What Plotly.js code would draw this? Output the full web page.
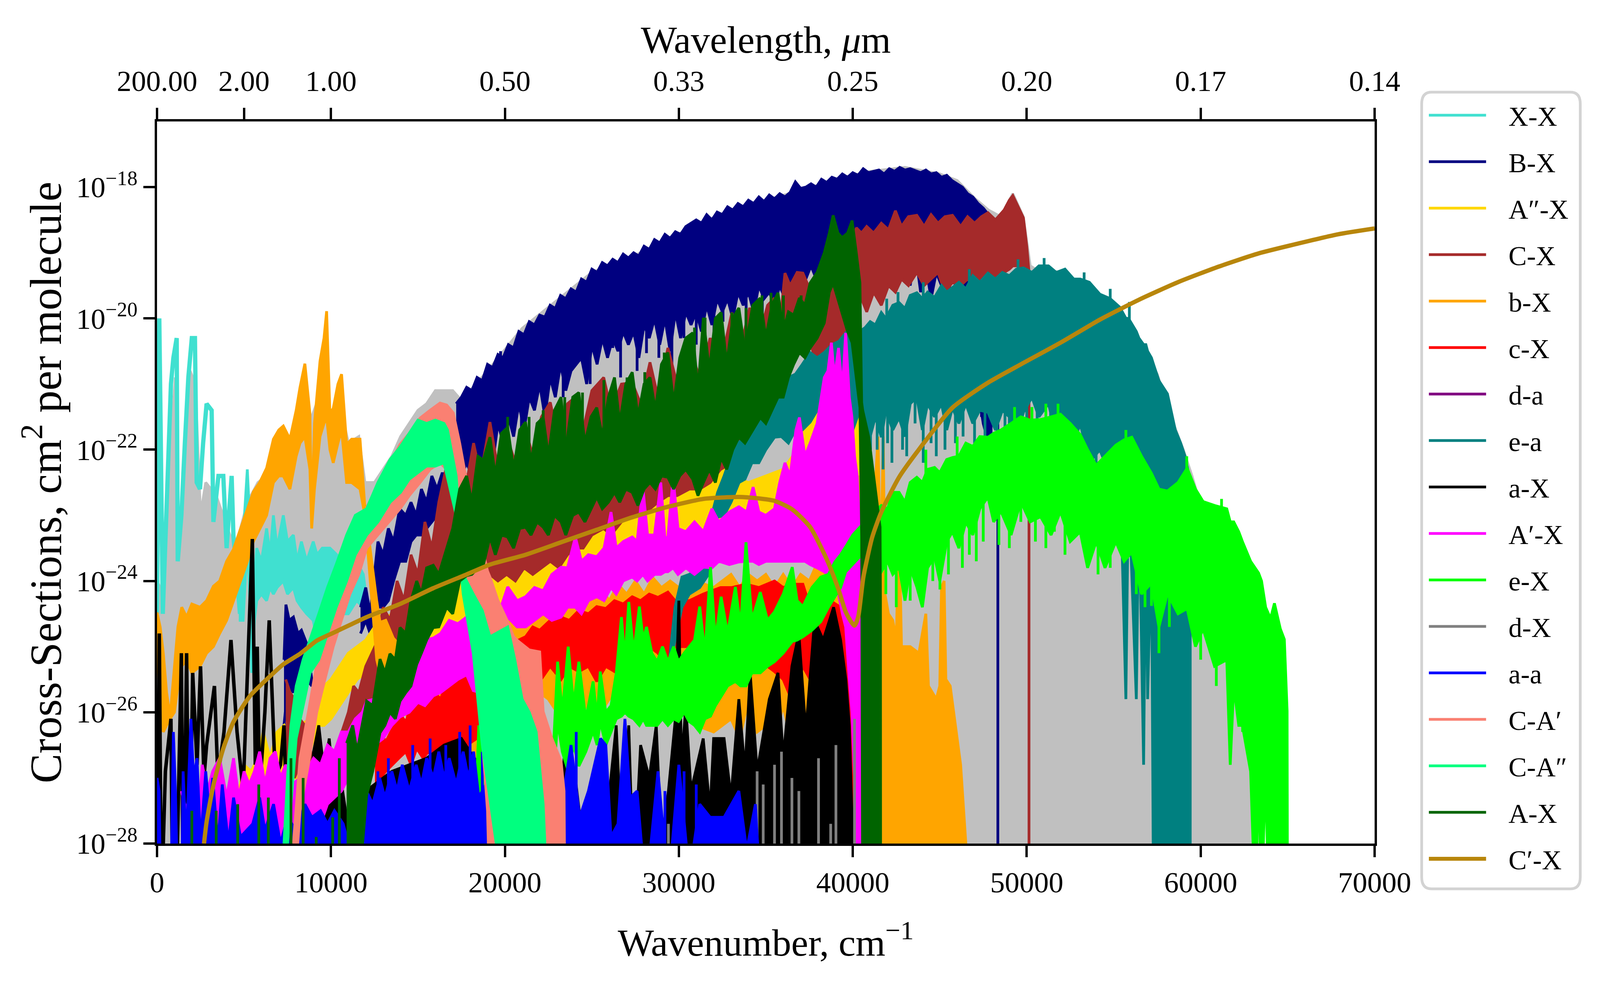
<!DOCTYPE html>
<html>
<head>
<meta charset="utf-8">
<script src="https://cdn.plot.ly/plotly-3.0.1.min.js"></script>
<style>body {margin: 0; background: white;} #chart {width: 100%; height: 100vh;}</style>
</head>
<body>
<div id="chart"></div>
<script>
// rows are [wavenumber, log10 upper, log10 lower]; a missing lower means down to the floor of the plot
var names = ["X-X", "B-X", "A″-X", "C-X", "b-X", "c-X", "d-a", "e-a", "a-X", "A′-X", "e-X", "d-X", "a-a", "C-A′", "C-A″", "A-X", "C′-X"]
var colors = ["turquoise", "navy", "gold", "brown", "orange", "red", "purple", "teal", "black", "magenta", "lime", "gray", "blue", "salmon", "springgreen", "darkgreen", "darkgoldenrod"]

var wavelength_ticks = [0, 5000, 10000, 20000, 30000, 40000, 50000, 60000, 70000]
var wavelength_labels = ["200.00", "2.00", "1.00", "0.50", "0.33", "0.25", "0.20", "0.17", "0.14"]
var wavenumber_ticks = [0, 10000, 20000, 30000, 40000, 50000, 60000, 70000]
var cross_ticks = [1e-28, 1e-26, 1e-24, 1e-22, 1e-20, 1e-18]
var cross_labels = ["10<sup>−28</sup>", "10<sup>−26</sup>", "10<sup>−24</sup>", "10<sup>−22</sup>", "10<sup>−20</sup>", "10<sup>−18</sup>"]

var total = [[0,-24.0],[500,-24.3],[900,-21.5],[1050,-20.9],[1250,-23.6],[1500,-22.6],[1900,-20.8],[2200,-21.0],[2500,-23.0],[2800,-22.5],[3400,-22.7],[4200,-23.3],[4450,-23.5],[4800,-23.2],[5200,-22.8],[5800,-22.5],[6300,-22.4],[7000,-22.3],[7600,-21.9],[8300,-21.7],[8900,-21.5],[9300,-21.2],[9600,-20.9],[10000,-21.5],[10500,-21.3],[11000,-21.9],[11600,-21.8],[11950,-22.5],[12500,-22.5],[13000,-22.3],[13500,-22.1],[14000,-21.8],[14500,-21.6],[15000,-21.4],[15500,-21.3],[16000,-21.1],[16500,-21.1],[17000,-21.1],[17500,-21.25],[19000,-20.8],[21000,-20.15],[23000,-19.72],[25000,-19.3],[27000,-19.1],[29000,-18.85],[31000,-18.58],[33000,-18.35],[35000,-18.2],[37000,-18.05],[39500,-17.85],[41000,-17.76],[43000,-17.7],[45000,-17.8],[46000,-17.9],[47000,-18.17],[47800,-18.35],[48500,-18.45],[49200,-18.1],[49800,-18.45],[50200,-19.2],[50500,-19.25],[52000,-19.3],[54000,-19.65],[55500,-19.95],[56500,-20.35],[57500,-20.85],[58500,-21.65],[59000,-22.0],[59500,-22.4],[60500,-23.3],[61500,-23.8],[62500,-24.4],[63000,-25],[63300,-27],[63310,-29]]

var xx_line = [[0,-24.5],[60,-21],[130,-20.0],[200,-21.5],[330,-24.5],[600,-22.5],[800,-21.0],[940,-20.6],[1130,-20.3],[1190,-23.7],[1400,-23.0],[1600,-21.9],[1800,-20.9],[2000,-20.3],[2180,-20.3],[2280,-22.5],[2470,-22.6],[2650,-21.9],[2850,-21.3],[3140,-21.4],[3240,-23.1],[3530,-22.4],[3810,-22.4],[4000,-23.5],[4290,-22.4],[4390,-23.3],[4770,-24.5]]
var xx_band = [[4700,-24.4,-24.6],[4950,-23.4,-24.6],[5190,-22.3,-23.4],[5300,-22.9,-24.0],[5440,-25.4,-25.4],[5600,-24.0,-24.6],[5730,-23.5,-24.3],[6000,-23.7,-24.2],[6300,-23.2,-24.3],[6500,-23.6,-24.1],[6690,-23.0,-24.2],[6900,-23.5,-24.1],[7260,-23.0,-24.0],[7500,-23.4,-24.2],[7840,-23.3,-24.1],[8050,-23.7,-24.3],[8300,-23.4,-24.4],[8600,-23.7,-24.5],[8980,-23.4,-24.6],[9200,-23.6,-24.9],[9500,-23.5,-24.3],[9940,-23.5,-24.5],[10330,-23.6,-24.6],[10700,-24.0,-24.5],[11000,-23.9,-24.5],[11470,-23.7,-24.3],[11860,-23.9,-24.4],[12050,-24.3,-24.6]]

var bx_low1 = [[7300,-25.2,-26.2],[7410,-24.36,-25.9],[7600,-24.6,-25.6],[7840,-24.55,-25.7],[8100,-24.8,-25.4],[8300,-24.75,-25.5],[8600,-24.95,-25.5],[8900,-25.5,-25.6]]
var bx_low2 = [[11700,-24.4,-24.8],[12000,-24.1,-24.6],[12250,-24.5,-24.8],[12700,-23.4,-24.4],[13000,-23.6,-24.4],[13300,-23.2,-24.3],[13600,-23.4,-24.0],[13950,-22.9,-23.7],[14300,-23.0,-23.7],[14600,-22.8,-23.4],[14900,-23.0,-23.3],[15200,-22.6,-23.3],[15500,-22.8,-23.2],[15800,-22.4,-23.1],[16100,-22.6,-23.0],[16400,-22.35,-22.8],[16700,-22.6,-23.0],[17100,-22.1,-22.8]]
var bx_main = [[17200,-21.3,-22.3],[17500,-21.2,-22.4],[17800,-21.05,-22.2],[18100,-21.1,-22.4],[18400,-20.9,-22.0],[18700,-20.95,-22.3],[19000,-20.7,-21.8],[19300,-20.75,-22.2],[19600,-20.55,-21.6],[19900,-20.6,-21.9],[20200,-20.4,-21.5],[20500,-20.45,-21.8],[20800,-20.2,-21.3],[21100,-20.25,-21.7],[21400,-20.05,-21.2],[21700,-20.1,-21.4],[22000,-19.95,-21.0],[22300,-19.98,-21.5],[22600,-19.8,-20.9],[22900,-19.85,-21.2],[23200,-19.65,-20.7],[23500,-19.7,-21.1],[23800,-19.55,-20.8],[24100,-19.6,-20.7],[24400,-19.4,-20.6],[24700,-19.45,-21.0],[25000,-19.25,-20.4],[25300,-19.3,-20.7],[25600,-19.15,-20.3],[25900,-19.2,-20.6],[26200,-19.1,-20.3],[26500,-19.15,-20.5],[26800,-19.02,-20.2],[27100,-19.08,-20.4],[27400,-19.0,-20.2],[27700,-19.05,-20.6],[28000,-18.9,-20.1],[28300,-18.95,-20.3],[28600,-18.8,-20.0],[28900,-18.85,-20.4],[29200,-18.72,-20.0],[29500,-18.78,-20.5],[29800,-18.68,-19.9],[30100,-18.72,-20.3],[30400,-18.6,-19.9],[30700,-18.55,-20.1],[31000,-18.5,-19.9],[31300,-18.55,-20.2],[31600,-18.42,-19.8],[31900,-18.5,-20.1],[32200,-18.38,-19.7],[32500,-18.42,-19.9],[32800,-18.3,-19.7],[33100,-18.35,-20.0],[33400,-18.25,-19.6],[33700,-18.3,-19.8],[34000,-18.2,-19.6],[34300,-18.25,-19.9],[34600,-18.15,-19.5],[34900,-18.22,-19.7],[35200,-18.12,-19.6],[35500,-18.18,-19.8],[35800,-18.1,-19.5],[36100,-18.15,-19.7],[36400,-18.08,-19.4],[36700,-17.92,-19.6],[37000,-18.02,-19.3],[37300,-18.0,-19.4],[37600,-17.95,-19.2],[37900,-18.0,-19.4],[38200,-17.88,-19.2],[38500,-17.93,-19.3],[38800,-17.85,-19.1],[39100,-17.88,-19.3],[39400,-17.8,-19.1],[39700,-17.85,-19.2],[40000,-17.78,-19.0],[40300,-17.82,-19.1],[40600,-17.72,-19.0],[40900,-17.78,-19.1],[41200,-17.76,-19.0],[41500,-17.74,-19.1],[41800,-17.8,-19.0],[42100,-17.72,-19.0],[42400,-17.76,-19.1],[42700,-17.7,-19.0],[43000,-17.74,-19.1],[43300,-17.72,-19.5],[43600,-17.75,-19.0],[43900,-17.78,-19.6],[44200,-17.74,-19.2],[44500,-17.8,-19.7],[44800,-17.78,-19.3],[45100,-17.85,-19.5],[45400,-17.82,-19.8],[45700,-17.9,-19.3],[46000,-17.95,-19.6],[46300,-18.0,-19.8],[46600,-18.1,-20.5],[46900,-18.15,-19.9],[47200,-18.25,-21.1],[47500,-18.32,-21.6],[47800,-18.42,-21.9]]
var bx_spike = [[48340,-29,-21.4]]
var bx_dips = [[19750,-21.5,-20.5],[20370,-21.36,-20.5],[20950,-21.9,-21],[21800,-21.2,-20.3],[22300,-21.7,-20.5],[22820,-20.97,-20],[23350,-21.2,-20.2],[24250,-20.59,-19.8],[24900,-21.0,-20],[25280,-20.52,-19.6],[26200,-20.45,-19.5],[26650,-20.9,-19.7],[27120,-20.37,-19.5],[27600,-20.8,-19.6],[28140,-20.53,-19.4],[28850,-20.6,-19.3],[29600,-20.7,-19.3],[30290,-20.3,-19.2],[31000,-20.4,-19.2],[32020,-20.3,-19],[32540,-20.05,-19],[33870,-20.1,-18.9],[34800,-20.0,-18.8],[36100,-19.85,-18.8],[47400,-21.5,-19],[47650,-21.9,-19.2],[47950,-22,-19.5]]

var gold_rows = [[4000,-27.2,-28],[4500,-27.5,-28],[5000,-26.8,-27.8],[5400,-26.9,-27.7],[5800,-26.7,-27.4],[6100,-26.3,-27.1],[6500,-26.7,-27.2],[6900,-26.3,-27.0],[7300,-26.2,-26.9],[7700,-26.5,-27.0],[8200,-26.2,-27.0],[8800,-26.1,-26.6],[9200,-25.7,-26.2],[9600,-25.6,-26.2],[10000,-25.5,-26.1],[10500,-25.3,-25.9],[11000,-25.1,-25.7],[11500,-25.0,-25.5],[12000,-24.9,-25.4],[12500,-24.7,-25.2],[13500,-24.5,-25.1],[15000,-24.3,-25.0],[17000,-24,-24.8],[19000,-23.8,-24.6],[21000,-23.6,-24.4],[22000,-23.3,-24.2],[23230,-23.1,-24.0],[23700,-23.4,-24.1],[24200,-22.9,-23.9],[24700,-23.2,-23.9],[25280,-22.8,-23.7],[25800,-23.1,-23.8],[26300,-22.75,-23.6],[26800,-23.0,-23.7],[27320,-22.65,-23.5],[27800,-22.9,-23.6],[28300,-22.6,-23.5],[28800,-22.85,-23.6],[29370,-22.5,-23.4],[29900,-22.7,-23.5],[30400,-22.45,-23.4],[30900,-22.6,-23.4],[31410,-22.3,-23.3],[31900,-22.4,-23.3],[32500,-22.25,-23.2],[33000,-22.4,-23.2],[34000,-22.5,-23.3],[35000,-22.4,-23.3],[36000,-22.3,-23.2],[36800,-22,-23.2],[37500,-21.3,-23],[38000,-21,-23],[38500,-20.3,-23],[38900,-19.9,-23],[39200,-20.5,-23],[39600,-21,-23],[40000,-20.2,-23],[40200,-20.4,-23],[40400,-21.5,-24],[40700,-22.3,-24.5],[41000,-22.8,-25],[41500,-23,-25]]

var cx_rows = [[7400,-25.5,-26.9],[7650,-25.7,-26.6],[7900,-25.8,-27.0],[8200,-26.1,-26.8],[8500,-26.2,-27.1],[9000,-26.8,-27.6],[10000,-26.8,-27.6],[10500,-26.4,-27.2],[11000,-26.0,-26.9],[11300,-25.6,-26.6],[11600,-25.7,-26.4],[12000,-25.3,-26.2],[12350,-25.1,-26.1],[12700,-24.9,-25.9],[13000,-24.4,-25.4],[13400,-24.6,-25.2],[13800,-24.0,-24.9],[14200,-24.3,-25.0],[14600,-23.6,-24.7],[15000,-23.9,-24.8],[15400,-23.1,-24.5],[15800,-23.5,-24.4],[16200,-22.8,-24.1],[16600,-22.3,-23.8],[17000,-22.6,-23.6],[17400,-22.0,-23.6],[17800,-22.5,-23.8],[18200,-21.9,-23.7],[18600,-22.4,-23.9],[19140,-21.58,-23.9],[19600,-22.3,-24.0],[20100,-21.8,-23.9],[20600,-22.2,-24.0],[21100,-21.6,-23.8],[21600,-22.1,-23.9],[22100,-21.5,-23.8],[22610,-21.28,-23.7],[23100,-21.9,-23.8],[23600,-21.3,-23.6],[24050,-21.2,-23.5],[24500,-21.7,-23.5],[25000,-21.1,-23.3],[25680,-20.9,-23.2],[26100,-21.4,-23.3],[26700,-21.0,-23.1],[27320,-20.98,-23.0],[27800,-21.3,-23.0],[28340,-20.67,-22.9],[28800,-21.2,-22.8],[29370,-20.45,-22.7],[29900,-21.0,-22.7],[30600,-20.45,-22.6],[31200,-20.9,-22.6],[31800,-20.3,-22.5],[32400,-20.7,-22.3],[33050,-19.91,-22.2],[33600,-20.4,-22.1],[34070,-19.84,-21.9],[34600,-20.3,-21.6],[35100,-19.8,-21.4],[35500,-19.69,-21.0],[35800,-20.1,-20.8],[36100,-19.31,-20.2],[36400,-19.5,-20.1],[36800,-19.3,-20.3],[37130,-19.31,-20.0],[37600,-19.6,-20.4],[38100,-19.4,-20.9],[38400,-19.3,-20.7],[38770,-19.23,-20.6],[39200,-19.4,-20.5],[39600,-19.3,-20.4],[40000,-19.0,-19.9],[40200,-18.62,-19.6],[40500,-18.7,-19.7],[40800,-18.6,-19.9],[41200,-18.7,-19.6],[41640,-18.55,-19.8],[42050,-18.65,-19.5],[42450,-18.36,-19.6],[42800,-18.6,-19.4],[43200,-18.45,-19.5],[43680,-18.43,-19.3],[44100,-18.6,-19.5],[44500,-18.42,-19.4],[44900,-18.55,-19.3],[45300,-18.45,-19.6],[45730,-18.43,-19.45],[46200,-18.6,-19.5],[46600,-18.45,-19.4],[47000,-18.55,-19.5],[47400,-18.45,-19.4],[47770,-18.39,-19.35],[48200,-18.5,-19.4],[48700,-18.35,-19.3],[49000,-18.2,-19.25],[49200,-18.13,-19.2],[49500,-18.3,-19.2],[49810,-18.47,-19.25],[50000,-18.9,-19.25],[50120,-19.23,-19.25]]
var cx_spike = [[50130,-29,-19.3]]

var orange_rows = [[0,-24.48,-25.0],[180,-24.7,-25.9],[360,-25.1,-26.3],[550,-25.7,-26.2],[750,-26.07,-26.1],[1000,-25.3,-26.0],[1200,-24.7,-25.6],[1420,-24.4,-25.3],[1700,-24.55,-25.2],[2000,-24.35,-25.4],[2470,-24.4,-25.3],[2850,-24.3,-25.1],[3240,-24.08,-25.0],[3600,-24.0,-24.8],[4000,-23.7,-24.6],[4390,-23.52,-24.3],[4800,-23.2,-24.0],[5200,-22.9,-23.7],[5540,-22.64,-23.4],[5900,-22.5,-23.2],[6300,-22.28,-23.0],[6690,-21.84,-22.5],[7000,-21.7,-22.4],[7260,-21.64,-22.4],[7640,-21.84,-22.6],[8000,-21.4,-22.1],[8220,-21.05,-21.9],[8500,-20.69,-21.8],[8790,-21.45,-22.3],[8890,-23.12,-23.2],[9050,-21.6,-22.6],[9370,-20.65,-21.8],[9600,-20.3,-21.6],[9750,-19.89,-21.5],[9940,-21.45,-22.0],[10130,-21.37,-22.2],[10400,-21.0,-21.9],[10610,-20.85,-21.7],[10900,-21.92,-22.5],[11190,-21.84,-22.5],[11670,-21.84,-22.6],[11950,-22.88,-23.0],[12240,-23.5,-24.0],[12630,-24.3,-25.2],[12820,-24.63,-25.4],[13150,-24.6,-25.5],[13580,-24.87,-25.5],[15000,-25.3,-26.5],[17000,-25.6,-26.8],[18300,-25.7,-26.7],[18660,-25.9,-27],[20160,-24.3,-25.8],[21000,-24.3,-25.9],[22000,-24.2,-25.7],[22500,-24.2,-25.8],[23000,-24.4,-26.0],[23500,-24.1,-25.7],[24000,-24.3,-25.9],[24500,-24.1,-26.0],[25000,-24.3,-25.7],[25500,-24.1,-26.0],[26000,-24.3,-25.8],[26500,-24.05,-25.6],[27000,-24.2,-25.8],[27500,-24.0,-25.7],[28000,-24.2,-25.8],[28500,-23.95,-25.6],[29000,-24.1,-25.8],[29500,-24.0,-25.8],[30000,-24.1,-25.9],[31000,-24.0,-26.2],[32000,-24.1,-26.3],[33000,-23.9,-26.1],[33500,-24.1,-26.4],[34000,-23.9,-25.8],[34500,-24.0,-26.3],[35000,-23.9,-26.2],[35500,-24.1,-26.4],[36000,-23.9,-25.9],[36500,-24.1,-26.5],[37000,-23.9,-25.8],[37500,-24.0,-26.2],[38000,-23.7,-26.2],[38500,-23.6,-26.6],[39000,-23.4,-26.8],[39500,-23.2,-27.2],[40000,-22.8,-27.8],[40400,-22.4],[40800,-22.6],[41200,-23],[41450,-21.8],[41600,-24],[41750,-21.8],[41850,-24.2],[42050,-24.5],[42300,-24.6],[42500,-24.9],[42660,-23.1],[42800,-25],[43300,-25],[43800,-25.1],[44200,-24.5],[44350,-25.6],[44800,-25.8],[45000,-25.6],[45100,-24.1],[45250,-24.0],[45350,-25.5],[45600,-25.6],[45800,-26],[46200,-26.8],[46500,-28],[46600,-29]]

var red_rows = [[12530,-26.63,-27.1],[12850,-26.3,-27.0],[13150,-26.45,-26.9],[13580,-26.23,-26.79],[13900,-26.0,-26.7],[14300,-26.15,-26.6],[14600,-25.9,-26.8],[14930,-25.83,-26.55],[15300,-25.95,-26.7],[15600,-25.7,-26.6],[15880,-25.67,-26.7],[16300,-25.8,-26.9],[16700,-25.5,-26.5],[17100,-25.6,-26.7],[17420,-25.43,-26.55],[17700,-25.3,-26.6],[17990,-25.19,-26.47],[18370,-25.75,-26.4],[18660,-26.07,-26.4],[19000,-26.1,-26.6],[20000,-25,-26],[21190,-24.85,-25.3],[21600,-24.7,-25.2],[22000,-24.75,-25.53],[22600,-24.6,-25.3],[23230,-24.55,-25.5],[23700,-24.6,-25.3],[24250,-24.45,-25.38],[24800,-24.5,-25.3],[25280,-24.39,-25.53],[25800,-24.42,-25.3],[26300,-24.3,-25.38],[26800,-24.35,-25.1],[27320,-24.24,-25],[27800,-24.3,-25.1],[28300,-24.2,-25.0],[28800,-24.25,-25.1],[29370,-24.17,-25.3],[29780,-24.3,-25.0],[30600,-24.3,-25.0],[31400,-24.2,-25.2],[32400,-24.1,-25.3],[33050,-24.1,-25.1],[33860,-24.05,-25.53],[34600,-24.1,-25.2],[35500,-24.0,-25.38],[36000,-24.1,-25.5],[36520,-24.05,-25.83],[37130,-24.05,-25.3],[37550,-24.4,-25.5],[37950,-24.4,-26.06],[38700,-24.3,-25.5],[39300,-24.4,-25.0],[40300,-25.7],[40520,-25.7]]

var ea_rows = [[29300,-25.6,-25.6],[29600,-24.8,-25.2],[29780,-24.4,-24.9],[30180,-23.94,-24.4],[30600,-23.9,-24.2],[31200,-23.79,-24.1],[31700,-23.2,-23.9],[32230,-22.65,-23.03],[32600,-22.4,-23.0],[33000,-22.1,-22.8],[33460,-21.89,-22.5],[33800,-21.8,-22.45],[34200,-21.6,-22.2],[34600,-21.55,-22.2],[35000,-21.3,-22.0],[35500,-21.13,-21.81],[35900,-21.15,-21.8],[36300,-20.9,-21.9],[36700,-20.85,-21.7],[37100,-20.7,-21.7],[37550,-20.52,-21.58],[37950,-20.6,-21.4],[38360,-20.52,-21.51],[38800,-20.4,-21.4],[39200,-20.35,-21.6],[39590,-20.22,-21.8],[40000,-20.14,-21.7],[40400,-20.2,-21.4],[40710,-20.14,-21.58],[41000,-20.05,-21.8],[41300,-20.1,-21.5],[41640,-19.91,-21.81],[41900,-20.0,-21.4],[42300,-19.8,-21.7],[42660,-19.76,-21.51],[43000,-19.85,-21.8],[43300,-19.65,-21.3],[43680,-19.61,-21.2],[44000,-19.7,-21.7],[44300,-19.6,-21.3],[44700,-19.68,-21.5],[45100,-19.5,-21.3],[45400,-19.6,-21.7],[45730,-19.53,-21.36],[46100,-19.45,-21.6],[46500,-19.55,-21.3],[46900,-19.35,-21.6],[47300,-19.45,-21.4],[47770,-19.31,-21.43],[48200,-19.4,-21.7],[48600,-19.3,-21.4],[49000,-19.35,-21.5],[49400,-19.25,-21.8],[49815,-19.23,-21.43],[50300,-19.3,-21.2],[50700,-19.2,-21.5],[51250,-19.2,-21.3],[51700,-19.3,-21.8],[52200,-19.25,-21.4],[52700,-19.4,-21.9],[53075,-19.4,-21.6],[53600,-19.45,-22.2],[54200,-19.63,-22.0],[54800,-19.7,-22.4],[55350,-19.83,-22.1],[55700,-20.0,-25.8],[55850,-20.0,-22.5],[56300,-20.2,-25.8],[56450,-20.3,-22.7],[56720,-20.4,-26.8],[56850,-20.4,-23.0],[56950,-20.5,-25.8],[57170,-20.6,-23.4],[57290,-20.7],[57600,-20.95],[58090,-21.15],[58300,-21.4],[58540,-21.7],[58850,-21.9],[59100,-22.1],[59340,-22.4],[59400,-22.6]]
var ea_dips = [[41020,-22.0,-21],[41400,-22,-21],[41740,-22.3,-21],[42000,-21.9,-21],[42250,-22.2,-21],[42860,-22.0,-21],[43100,-22.1,-21],[43580,-21.6,-20.8],[44050,-22.2,-21],[44500,-21.9,-21],[44800,-22.1,-21],[45300,-22.0,-21],[45900,-21.9,-21],[46340,-21.8,-21],[47000,-21.9,-21],[47600,-22.1,-21],[48300,-22.0,-21],[48750,-22.0,-21],[49000,-21.9,-21],[49610,-21.7,-21],[50000,-21.9,-21],[50600,-22.1,-21],[51370,-22.0,-21],[51900,-22.3,-21],[52160,-21.9,-21],[52850,-22.1,-21],[53300,-22.5,-21.4],[53990,-22.6,-21.5],[54440,-22.5,-21.5],[54700,-22.8,-21.5],[55010,-22.9,-21.5],[55300,-23.0,-21.8],[41950,-20.5,-19.7],[42600,-20.5,-19.6],[44050,-20.3,-19.45],[46700,-20.2,-19.25],[49500,-20.2,-19.1],[51000,-20.2,-19.08],[53300,-20.2,-19.3],[54800,-20.3,-19.55],[55900,-20.5,-19.75]]

var ax_line = [[0,-29],[130,-24.8],[250,-29],[480,-26.9],[800,-26.1],[900,-29],[1100,-29],[1400,-25.1],[1500,-29],[1700,-25.1],[1850,-29],[2050,-25.4],[2300,-26.8],[2500,-25.3],[2700,-27],[2850,-26.5],[3300,-25.6],[3500,-27],[3850,-26.3],[4250,-24.9],[4600,-26.3],[4950,-27.2],[5480,-23.36],[5650,-26.8],[5760,-25.0],[5900,-27.2],[6200,-26.0],[6450,-24.6],[6800,-27.0],[7100,-26.8],[7300,-26.2],[7500,-28],[8000,-27.6]]
var ax_band = [[8800,-27.6],[9000,-26.6],[9300,-26.2],[9600,-26.9],[9900,-26.4],[10200,-27.2],[10500,-26.9],[10900,-27.6],[11500,-27.3],[12500,-27.1],[13500,-26.9],[14500,-26.8],[15500,-26.7],[16500,-26.5],[17500,-26.4],[18500,-26.8],[19400,-27.3],[19600,-29],[23000,-29],[23400,-26.7],[23700,-28.2],[24000,-26.9],[24500,-28],[25100,-26.9],[25600,-28.3],[26400,-26.2],[26700,-28],[27120,-26.2],[27400,-28.6],[27800,-26.5],[28300,-27.0],[28700,-26.2],[29000,-28],[29400,-27.2],[29800,-26.1],[30000,-24.3],[30150,-26.8],[30400,-25.9],[30700,-27.2],[31400,-26.4],[31800,-27.5],[32000,-26.4],[32600,-26.4],[33000,-27.3],[33450,-25.8],[33800,-26.9],[34100,-25.4],[34500,-26.9],[34900,-26.3],[35200,-25.8],[35700,-25.4],[36000,-26.7],[36500,-25.3],[36900,-24.8],[37300,-26.3],[37800,-24.6],[38300,-24.9],[38900,-24.4],[39300,-24.9],[39600,-25.5],[39800,-26.2],[40000,-28],[40200,-29],[40450,-29],[40550,-27.2],[40620,-29]]

var aprime_low = [[1400,-27.2],[1700,-27.5],[2000,-27.2,-28],[2300,-27.9],[2600,-26.8,-28],[2900,-27.2,-28.5],[3200,-26.9,-28],[3600,-26.7,-28],[4000,-27.3,-28.1],[4400,-26.7,-28],[4700,-27.3,-27.9],[5000,-26.9,-27.8],[5300,-27.1,-27.8],[5600,-26.9,-27.7],[5900,-26.6,-27.9],[6200,-27.1,-27.8],[6500,-26.7,-27.8],[6800,-26.6,-27.7],[7100,-27,-27.9],[7400,-26.8,-28],[7800,-27.1,-28],[8200,-27,-28],[8600,-26.9,-27.9],[9000,-26.7,-27.8],[9400,-26.8,-27.7],[9800,-26.5,-27.4],[10200,-26.6,-27.3],[10600,-26.3,-27.2],[11000,-26.3,-27],[11400,-26.1,-27],[11800,-26,-26.9],[12050,-25.83,-26.55],[12500,-25.8,-26.5],[13000,-25.55,-26.4],[13500,-25.6,-26.2],[13970,-25.35,-26.07],[14500,-25.2,-26.0],[15000,-25.15,-25.85],[15400,-24.9,-25.9],[15880,-24.87,-25.75],[16300,-24.8,-25.7],[16800,-24.6,-25.6],[17300,-24.65,-25.5],[17800,-24.55,-25.43],[18180,-24.8,-25.67],[18570,-25.27,-25.7],[19400,-24.7,-25.0],[20160,-24.09,-24.55],[20700,-24.3,-24.7],[21190,-24.24,-24.7],[21700,-24.1,-24.6],[22200,-24.15,-24.5],[22700,-23.9,-24.6],[23230,-23.79,-24.55],[23600,-23.8,-24.4],[24050,-23.33,-24.4],[24400,-23.7,-24.5],[24800,-23.6,-24.3],[25280,-23.63,-24.24],[25700,-23.5,-24.3],[26100,-22.95,-24.1],[26400,-23.5,-24.2],[26800,-23.4,-24.0],[27320,-23.33,-23.94],[27600,-23.4,-24.0],[27930,-22.57,-23.9],[28200,-23.3,-24.0],[28600,-23.3,-23.9],[28960,-22.5,-23.9],[29200,-23.35,-23.86],[29370,-23.33,-23.86],[29670,-22.42,-23.8],[29950,-23.2,-23.9],[30400,-23.25,-23.8],[30900,-23.1,-23.9],[31410,-23.25,-23.79],[31900,-22.9,-23.8],[32300,-23.1,-23.7],[32900,-22.95,-23.75],[33450,-22.87,-23.71],[33900,-22.95,-23.7],[34270,-22.57,-23.7],[34600,-22.95,-23.75],[35000,-23.0,-23.7],[35500,-22.9,-23.71],[35800,-22.5,-23.7],[36100,-22.2,-23.7],[36400,-22.4,-23.7],[36730,-21.7,-23.7],[36930,-21.51,-23.7],[37250,-22.1,-23.7],[37550,-21.9,-23.75],[37950,-21.6,-23.8],[38360,-20.9,-23.86],[38570,-20.8,-23.9],[38770,-20.37,-24.1],[38950,-20.9,-24.1],[39180,-20.45,-24.2],[39400,-21.1,-24.5],[39590,-20.22,-24.7],[39800,-21.2,-25.5],[39950,-21.5,-26],[40100,-22.1,-27],[40250,-22.4,-28],[40410,-23.33]]

var ex_rows = [[18300,-27.5,-27.5],[18500,-26.2,-27.2],[18900,-26.7,-27.2],[19200,-26.8,-27.2],[19500,-27.5,-27.5],[21000,-27,-27.5],[22800,-26.5,-27],[23030,-25.23,-26.14],[23300,-26.0,-26.6],[23640,-25,-26.9],[23950,-25.9,-26.5],[24250,-25.23,-26.82],[24650,-26.1,-26.6],[25070,-25.53,-26.29],[25300,-26.1,-26.5],[25480,-25.38,-26.14],[25800,-26.0,-26.5],[26100,-25.9,-26.3],[26400,-25.4,-26.1],[26700,-24.55,-26.06],[26900,-25.2,-26.0],[27120,-24.32,-26.06],[27400,-25.1,-26.1],[27730,-24.39,-26.2],[27950,-24.9,-26.1],[28140,-24.7,-26.2],[28450,-25.1,-26.2],[28750,-25.23,-26.2],[29060,-25.0,-26.1],[29370,-25.23,-26.2],[29700,-25.0,-26.1],[29980,-25.23,-26.14],[30300,-25.1,-26.0],[30590,-25,-26.14],[30900,-24.9,-26.2],[31200,-24.39,-26.3],[31500,-25.1,-26.1],[31820,-23.79,-26.06],[32100,-24.9,-25.9],[32430,-24.24,-25.76],[32800,-24.8,-25.6],[33250,-24.09,-25.53],[33550,-24.7,-25.6],[33860,-23.41,-25.6],[34200,-24.6,-25.4],[34680,-24.17,-25.4],[35100,-24.6,-25.3],[35500,-24.47,-25.23],[36000,-24.2,-25.1],[36520,-23.79,-24.92],[36800,-24.3,-24.9],[37130,-24.39,-24.85],[37650,-24.1,-24.75],[38160,-23.94,-24.62],[38600,-23.9,-24.4],[38970,-23.71,-24.24],[39300,-23.6,-24.1],[39590,-23.48,-23.86],[40000,-23.3,-23.75],[40410,-23.18,-23.63],[41000,-23.0,-23.7],[41640,-22.85,-23.86],[42000,-22.9,-23.7],[42300,-22.65,-23.9],[42660,-22.65,-23.79],[43000,-22.8,-24.3],[43300,-22.5,-23.8],[43680,-22.42,-24.09],[44000,-22.5,-24.4],[44300,-22.3,-23.8],[44700,-22.27,-23.63],[45000,-22.35,-24.0],[45400,-22.15,-23.4],[45730,-22.12,-23.25],[46100,-22.1,-23.5],[46500,-21.9,-23.1],[46900,-21.95,-23.3],[47300,-21.8,-22.9],[47770,-21.81,-22.72],[48100,-21.75,-23.1],[48520,-21.7,-22.94],[49100,-21.6,-23.3],[49660,-21.5,-22.79],[50200,-21.55,-23.1],[50800,-21.54,-23.02],[51400,-21.5,-23.3],[51940,-21.46,-22.94],[52500,-21.6,-23.4],[53075,-21.77,-23.25],[53500,-22.0,-23.8],[53990,-22.24,-23.4],[54500,-22.1,-23.8],[55125,-21.93,-23.4],[55600,-21.85,-23.7],[56040,-21.81,-23.56],[56600,-22.1,-24.2],[57170,-22.36,-24.03],[57600,-22.6,-24.7],[58090,-22.63,-24.19],[58700,-22.5,-24.5],[59225,-22.28,-24.42],[59700,-22.6,-25.0],[60140,-22.79,-24.73],[60800,-22.85,-25.3],[61500,-22.9,-25.2],[61700,-23.1,-26.8],[61900,-23.1,-25.6],[62190,-23.25,-26.2],[62400,-23.4,-26.2],[62870,-23.7,-26.9],[63140,-23.8],[63330,-23.88,-26.9],[63500,-24.0],[63735,-24.4,-26.8],[63900,-24.5],[64010,-24.58],[64240,-24.34],[64580,-24.73],[64810,-24.89],[64970,-25.98],[64990,-29]]
var ex_dips = [[41900,-24.2,-23],[42500,-24.4,-23],[43300,-24.3,-23],[43990,-24.09,-23],[44600,-24.0,-23],[45010,-24.13,-23],[45500,-23.9,-22.8],[46300,-23.8,-22.6],[46700,-23.6,-22.5],[47100,-23.7,-22.5],[47500,-23.4,-22.4],[48400,-23.45,-22.5],[49000,-23.5,-22.4],[49660,-23.1,-22.4],[50500,-23.4,-22.4],[51100,-23.5,-22.4],[51590,-23.25,-22.4],[52200,-23.6,-22.4],[52730,-23.33,-22.4],[53530,-23.68,-22.6],[54100,-23.9,-22.8],[54800,-23.8,-22.6],[55240,-23.4,-22.6],[56300,-24.2,-23],[56800,-24.4,-23],[57170,-24.38,-23],[57600,-25.1,-23.5],[57860,-24.42,-23.2],[58200,-24.7,-23.2],[58540,-24.03,-23.2],[59110,-23.99,-23.2],[59570,-24.58,-23.4],[60000,-25.2,-23.5],[60590,-24.85,-23.6],[60900,-25.6,-23.7],[61500,-25.08,-23.7],[61730,-26.2,-24],[62410,-26.3,-24.5],[44200,-23,-22.0],[46000,-23,-21.8],[49300,-22.5,-21.35],[50300,-22.5,-21.35],[51100,-22.5,-21.3],[51800,-22.5,-21.3],[55700,-22.8,-21.7],[59200,-23,-22.1],[61200,-23.6,-22.75]]

var dx_sticks = [[29400,-29,-27.7],[31400,-29,-27.5],[34500,-29,-26.9],[34850,-29,-27.1],[35500,-29,-26.8],[35900,-29,-26.6],[36500,-29,-27.0],[36900,-29,-27.2],[38030,-29,-26.7],[38730,-29,-27.7],[39030,-29,-26.5],[40100,-29,-26.1]]

var aa_rows = [[0,-27.0],[120,-27.2],[220,-29],[680,-29],[840,-28],[940,-26.3],[1060,-27.2],[1200,-29],[1400,-29],[1500,-26.9],[1680,-28],[1950,-26.1],[2100,-27],[2300,-26.7],[2500,-28],[2800,-26.9],[3000,-27.5],[3200,-27],[3500,-28],[3750,-27.1],[4100,-28],[4400,-27.3],[4800,-27.9],[5500,-27.7],[5900,-27.3],[6200,-27.8],[6700,-27.4],[7100,-28],[7500,-27.6],[8000,-27.8],[8500,-27.4],[8900,-27.6],[9400,-27.5],[9800,-27.7],[10200,-27.5],[10700,-27.7],[11000,-28],[11400,-27.4],[11670,-27.3],[12050,-27.2],[12400,-27.4],[12800,-27.0],[13100,-27.3],[13500,-26.9],[13800,-27.2],[14100,-26.8],[14500,-27.2],[14900,-26.8],[15200,-27.1],[15500,-26.7],[15880,-27.0],[16200,-26.6],[16500,-27.0],[16800,-26.7],[17200,-27.1],[17600,-26.6],[17900,-27.0],[18200,-26.6],[18500,-27.3],[18900,-27.1],[19200,-27.4],[19520,-27.5],[20000,-28],[23000,-28],[23330,-27.3],[23800,-26.5],[24300,-27.6],[24800,-27.2],[25500,-26.4],[25800,-26.5],[26100,-27.9],[26500,-27.7],[26900,-26.1],[27200,-27.3],[27600,-27.2],[28100,-28.8],[28800,-26.9],[29400,-28.7],[30000,-26.8],[30600,-28.5],[31200,-27.4],[31800,-27.6],[32600,-27.6],[33450,-27.2],[33900,-28.1],[34400,-27.4],[34700,-28.8],[34900,-28.8],[35000,-29]]
var aa_sticks = [[12700,-28,-26.9],[13300,-28,-26.7],[14700,-28,-26.5],[15700,-28,-26.4],[16600,-28,-26.5],[17400,-28,-26.3],[18000,-28,-26.2],[18700,-28,-26.6],[19100,-28,-26.9],[24100,-28,-26.3],[29200,-28,-27.2],[30300,-28,-26.9],[31000,-28,-27.1]]

var ca1_rows = [[7840,-28],[8220,-26.7,-27.5],[8700,-26.0,-26.8],[9180,-25.27,-26],[9650,-24.9,-25.5],[10130,-24.4,-25],[10600,-24.0,-24.6],[11090,-23.36,-24.2],[11600,-23.2,-23.9],[12050,-22.88,-23.5],[13000,-22.4,-23.2],[13970,-21.92,-22.9],[14500,-21.75,-22.7],[15120,-21.52,-22.5],[15700,-21.4,-22.3],[16270,-21.29,-22.2],[16650,-21.32,-22.3],[17030,-21.44,-22.5],[17400,-21.9,-23.2],[17800,-22.48,-23.8],[18180,-22.88,-24.5],[18600,-23.4,-26],[19000,-23.85,-27.5],[19140,-23.94],[19600,-24.3],[20160,-24.62],[20500,-24.85],[20780,-24.92],[21400,-25.05],[22000,-25.08],[22200,-25.99],[22700,-26.4],[23230,-26.75],[23400,-27.2],[23440,-28],[23450,-29]]
var ca2_rows = [[7300,-28],[7500,-27.0,-28],[7700,-26.2,-27.4],[8000,-25.6,-26.4],[8400,-25.2,-25.9],[8800,-24.9,-25.4],[9300,-24.5,-25.2],[9800,-24.1,-24.8],[10300,-23.75,-24.4],[10900,-23.3,-24.0],[11400,-23.0,-23.6],[12050,-22.9,-23.3],[12700,-22.5,-23.1],[13400,-22.15,-22.8],[14000,-21.95,-22.65],[14500,-21.75,-22.45],[15000,-21.55,-22.35],[15500,-21.6,-22.25],[16000,-21.55,-22.25],[16500,-21.6,-22.2],[16700,-21.7,-22.4],[17200,-22.4,-23.0],[17600,-23.9,-24.2],[18180,-24.2,-25.1],[18700,-24.45,-26.5],[19140,-24.85,-27.3],[19500,-24.8,-28],[20160,-24.7],[20570,-25.2],[20990,-25.8],[21400,-26],[21800,-26.3],[22200,-27.4],[22300,-28],[22310,-29]]

var ax_spikes = [[2000,-29,-27.5],[3400,-29,-27.5],[4640,-29,-27.4],[5850,-29,-27.1],[6400,-29,-27.3],[7700,-29,-26.7],[8400,-29,-27],[9150,-29,-27.9],[10100,-29,-27.6],[10480,-29,-26.7]]
var ax_ups = [[20160,-22.5,-21.5],[21390,-22.5,-21.5],[22200,-22.5,-21.4],[23440,-22.5,-21.2],[24460,-22.5,-21.13],[25690,-22.2,-20.94],[27020,-22.2,-20.9],[28040,-22.2,-20.82],[29160,-22,-20.52],[30900,-22,-20.14],[31510,-21.8,-19.99],[32230,-21.8,-20.07],[33050,-21.5,-19.91],[33860,-21.5,-19.84],[34780,-21,-19.65],[35300,-21,-19.61],[36010,-20.8,-19.65],[37030,-20.5,-19.65],[37650,-20.3,-19.46]]
var ax_rows = [[10900,-26.47],[11250,-26.2],[11500,-26.6],[12050,-25.83,-27.27],[12400,-25.9,-26.9],[12820,-25.19,-26.31],[13100,-25.4,-26.2],[13390,-25.11,-26.0],[13700,-25.2,-26.1],[13970,-24.71,-25.83],[14300,-24.8,-25.7],[14600,-24.3,-25.6],[14930,-24,-25.27],[15200,-24.2,-25.1],[15500,-23.8,-24.9],[15880,-23.76,-24.71],[16200,-23.9,-24.7],[16650,-23.52,-24.4],[17000,-23.2,-24.5],[17400,-22.6,-24.0],[17800,-22.4,-23.92],[18100,-22.8,-23.9],[18450,-22.1,-23.8],[18760,-22.16,-23.76],[19140,-21.81,-23.33],[19450,-22.4,-23.6],[19800,-21.75,-23.3],[20160,-21.66,-23.33],[20500,-22.3,-23.5],[20850,-21.7,-23.2],[21190,-21.58,-23.18],[21500,-22.2,-23.3],[21850,-21.6,-23.1],[22200,-21.51,-23.18],[22500,-22.1,-23.3],[22850,-21.4,-23.0],[23230,-21.2,-23.1],[23500,-22.0,-23.3],[23900,-21.2,-23.0],[24250,-21.13,-22.95],[24600,-21.9,-23.1],[24950,-21.5,-22.9],[25280,-21.36,-22.72],[25600,-21.8,-22.9],[25950,-21.2,-22.8],[26300,-20.9,-22.65],[26600,-21.6,-22.8],[26950,-21.0,-22.6],[27320,-20.82,-22.65],[27650,-21.5,-22.85],[28000,-21.0,-22.6],[28340,-20.9,-22.5],[28650,-21.4,-22.6],[29000,-20.7,-22.4],[29370,-20.52,-22.42],[29700,-21.3,-22.6],[30050,-20.6,-22.4],[30400,-20.3,-22.3],[30800,-20.22,-22.45],[31100,-21.1,-22.7],[31410,-19.99,-22.5],[31750,-20.8,-22.3],[32100,-20.0,-22.5],[32430,-19.91,-22.12],[32750,-20.7,-22.3],[33100,-20.0,-22.0],[33450,-19.84,-21.81],[33800,-20.5,-21.9],[34250,-19.8,-21.7],[34680,-19.69,-21.51],[35000,-20.3,-21.6],[35350,-19.8,-21.4],[35700,-19.61,-21.2],[36000,-20.2,-21.2],[36300,-19.9,-20.9],[36600,-19.95,-20.7],[36930,-19.69,-20.52],[37250,-19.8,-20.6],[37550,-19.46,-20.45],[37950,-19.3,-20.3],[38360,-19,-20.07],[38650,-18.7,-19.6],[38870,-18.43,-19.46],[39150,-18.7,-19.7],[39390,-18.77,-19.91],[39700,-18.7,-20.2],[39960,-18.51,-20.37],[40200,-19.0,-20.9],[40410,-19.46,-21.36],[40510,-21.28,-23.33],[40570,-21.4],[40920,-21.81],[41100,-22.2],[41330,-22.72],[41570,-23.18],[41590,-24.24],[41600,-29]]

var cprime_rows = [[2700,-28],[2850,-27.67],[3240,-27.11],[3810,-26.55],[4390,-26.15],[5350,-25.75],[6300,-25.5],[7260,-25.27],[8220,-25.11],[9180,-24.91],[10130,-24.79],[11090,-24.67],[12050,-24.55],[13970,-24.35],[15880,-24.11],[17800,-23.9],[19140,-23.75],[21190,-23.6],[23230,-23.41],[25280,-23.22],[27320,-23.03],[29370,-22.87],[31410,-22.75],[33450,-22.72],[34500,-22.74],[35500,-22.78],[36520,-22.91],[37550,-23.18],[38570,-23.71],[39180,-24.13],[39590,-24.47],[39900,-24.62],[40100,-24.68],[40310,-24.55],[40610,-23.94],[41120,-23.33],[41640,-22.95],[42660,-22.42],[43680,-22.04],[45730,-21.36],[47770,-20.98],[49660,-20.7],[51940,-20.37],[54200,-20.02],[56500,-19.71],[58770,-19.44],[61050,-19.21],[63330,-19.01],[65600,-18.86],[67880,-18.72],[70000,-18.63]]

function band(rows, color) {
    var x = rows.map(r => r[0])
    var top = rows.map(r => Math.pow(10, r[1]))
    var bottom = rows.map(r => Math.pow(10, r.length > 2 ? r[2] : -29))
    return {
        x: x.concat(x.slice().reverse()),
        y: top.concat(bottom.reverse()),
        mode: 'lines',
        fill: 'toself',
        fillcolor: color,
        line: {color: color, width: 7},
        showlegend: false,
        hoverinfo: 'skip',
    }
}

function line(rows, color, width) {
    return {
        x: rows.map(r => r[0]),
        y: rows.map(r => Math.pow(10, r[1])),
        mode: 'lines',
        line: {color: color, width: width},
        showlegend: false,
        hoverinfo: 'skip',
    }
}

// single narrow lines, [wavenumber, log10 from, log10 to]
function sticks(rows, color) {
    var x = [], y = []
    rows.forEach(function(r) {
        x.push(r[0], r[0], null)
        y.push(Math.pow(10, r[1]), Math.pow(10, r[2]), null)
    })
    return {
        x: x,
        y: y,
        mode: 'lines',
        line: {color: color, width: 7},
        showlegend: false,
        hoverinfo: 'skip',
    }
}

var data = [
    band(total, "silver"),
    line(xx_line, colors[0], 11),
    band(xx_band, colors[0]),
    band(bx_low1, colors[1]),
    band(bx_low2, colors[1]),
    band(bx_main, colors[1]),
    sticks(bx_dips, colors[1]),
    sticks(bx_spike, colors[1]),
    band(gold_rows, colors[2]),
    band(cx_rows, colors[3]),
    sticks(cx_spike, colors[3]),
    band(orange_rows, colors[4]),
    band(red_rows, colors[5]),
    band(ea_rows, colors[7]),
    sticks(ea_dips, colors[7]),
    line(ax_line, colors[8], 9),
    band(ax_band, colors[8]),
    band(aprime_low, colors[9]),
    band(ex_rows, colors[10]),
    sticks(ex_dips, colors[10]),
    sticks(dx_sticks, colors[11]),
    band(aa_rows, colors[12]),
    sticks(aa_sticks, colors[12]),
    band(ca1_rows, colors[13]),
    band(ca2_rows, colors[14]),
    sticks(ax_spikes, colors[15]),
    sticks(ax_ups, colors[15]),
    band(ax_rows, colors[15]),
    line(cprime_rows, colors[16], 11),
]
data[data.length - 1].line.shape = 'spline'
data[data.length - 1].line.smoothing = 0.6

// legend entries; nbsp pushes the text away from the sample line
names.forEach(function(name, i) {
    data.push({
        x: [null],
        y: [null],
        name: "\u00a0\u00a0\u00a0" + name,
        legendgroup: name,
        mode: 'lines',
        line: {color: colors[i], width: i == 16 ? 11 : 7},
        hoverinfo: 'skip',
    })
})

// the top axis only appears when a trace is bound to it
data.push({x: [0, 70000], y: [null, null], xaxis: 'x2', mode: 'lines', showlegend: false, hoverinfo: 'skip'})

// reference geometry is 4895x2535, the window can be narrower than that
var W = window.innerWidth, H = window.innerHeight
var kx = W / 4895, ky = H / 2535
var font_tick = 75, font_title = 98, font_legend = 70

var plot_w = 3724, plot_h = 1849, plot_l = 481, plot_t = 311
function paper_x(px) { return (px - plot_l) / plot_w }
function paper_y(px) { return (plot_t + plot_h - px) / plot_h }

var box_l = paper_x(4349), box_r = paper_x(4834), box_t = paper_y(236), box_b = paper_y(2276)
var rx = 30 / plot_w, ry = 30 / plot_h
var box_path = `M ${box_l + rx},${box_t} L ${box_r - rx},${box_t} Q ${box_r},${box_t} ${box_r},${box_t - ry} ` +
    `L ${box_r},${box_b + ry} Q ${box_r},${box_b} ${box_r - rx},${box_b} ` +
    `L ${box_l + rx},${box_b} Q ${box_l},${box_b} ${box_l},${box_b + ry} ` +
    `L ${box_l},${box_t - ry} Q ${box_l},${box_t} ${box_l + rx},${box_t} Z`

var serif = "Liberation Serif"
var tick_style = {
    ticks: 'outside',
    ticklen: 29,
    tickwidth: 6,
    tickcolor: 'black',
    showline: true,
    linewidth: 6,
    linecolor: 'black',
    showgrid: false,
    zeroline: false,
    tickmode: 'array',
}

var layout = {
    width: W,
    height: H,
    margin: {l: 481 * kx, r: 690 * kx, t: 311 * ky, b: 375 * ky, pad: 0, autoexpand: false},
    paper_bgcolor: 'white',
    plot_bgcolor: 'white',
    font: {family: serif, size: font_tick, color: 'black'},
    xaxis: Object.assign({}, tick_style, {
        range: [0, 70000],
        tickvals: wavenumber_ticks,
        ticktext: wavenumber_ticks.map(String),
        title: {text: 'Wavenumber, cm<sup>−1</sup>', font: {size: font_title}, standoff: 80},
    }),
    xaxis2: Object.assign({}, tick_style, {
        range: [0, 70000],
        overlaying: 'x',
        side: 'top',
        anchor: 'y',
        tickvals: wavelength_ticks,
        ticktext: wavelength_labels,
        ticklabelstandoff: 13,
        title: {text: 'Wavelength, <i>μ</i>m', font: {size: font_title}, standoff: 0},
    }),
    yaxis: Object.assign({}, tick_style, {
        type: 'log',
        range: [-28, -17],
        tickvals: cross_ticks,
        ticktext: cross_labels,
        mirror: true,
        title: {text: 'Cross-Sections, cm<sup>2</sup> per molecule', font: {size: 114}, standoff: 2},
    }),
    legend: {
        x: paper_x(4365),
        xanchor: 'left',
        y: paper_y(243),
        yanchor: 'top',
        bgcolor: 'rgba(0,0,0,0)',
        borderwidth: 0,
        itemwidth: 175 * kx,
        tracegroupgap: 25,
        traceorder: 'grouped',
        maxheight: 2400,
        font: {family: serif, size: font_legend},
    },
    shapes: [{
        type: 'path',
        xref: 'paper',
        yref: 'paper',
        path: box_path,
        line: {color: 'lightgray', width: 7},
        fillcolor: 'white',
        layer: 'below',
    }],
}

Plotly.newPlot('chart', data, layout, {displayModeBar: false, showTips: false})
</script>
</body>
</html>
